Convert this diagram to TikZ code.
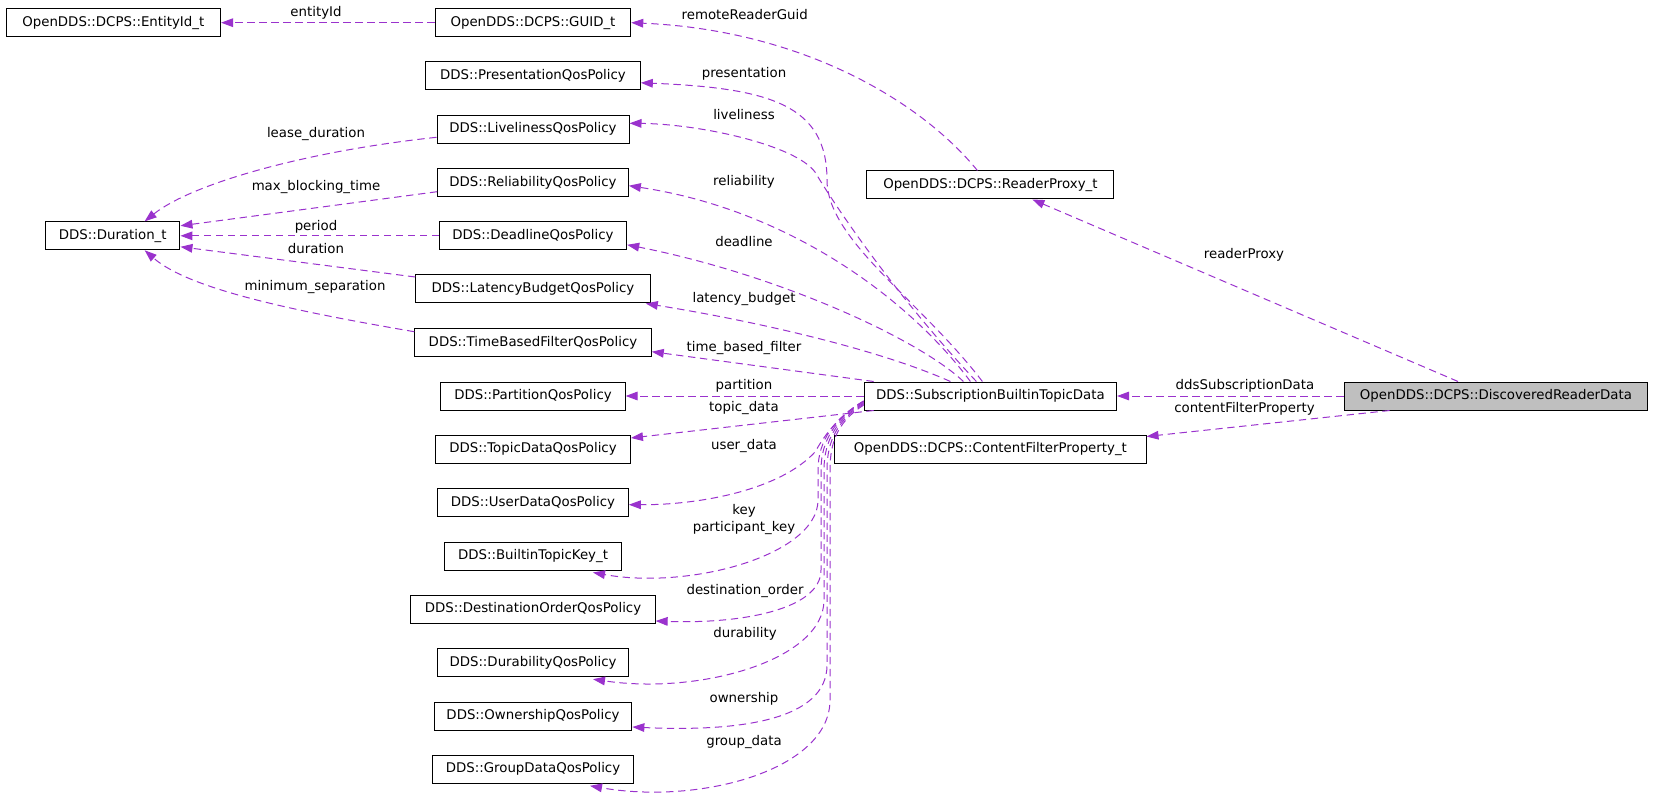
\documentclass[tikz,border=0pt]{standalone}
\usepackage{fontspec}
\setmainfont{DejaVu Sans}
\usetikzlibrary{arrows.meta,calc}
\definecolor{usecol}{HTML}{9A32CD}
\definecolor{curcol}{HTML}{BFBFBF}
\begin{document}
\begin{tikzpicture}[x=0.75pt,y=-0.75pt,
  cls/.style={draw=black,line width=0.75pt,fill=white,minimum height=21pt,inner xsep=0pt,inner ysep=0pt,font=\fontsize{10}{12}\selectfont},
  cur/.style={cls,fill=curcol},
  mem/.style={draw=usecol,line width=0.75pt,dash pattern=on 5.5pt off 3.5pt,-{Triangle[length=9pt,width=6.5pt]}},
  lab/.style={font=\fontsize{10}{12.75}\selectfont,inner sep=0pt,align=center}]
\useasboundingbox (0,0) rectangle (1653,802);
\node[cls,minimum width=160.9pt] (entityid) at (113.3,22.7) {OpenDDS::DCPS::EntityId\_t};
\node[cls,minimum width=146.6pt] (guid) at (533,22.7) {OpenDDS::DCPS::GUID\_t};
\node[cls,minimum width=161pt] (presentation) at (533,75.8) {DDS::PresentationQosPolicy};
\node[cls,minimum width=144pt] (liveliness) at (533,129.3) {DDS::LivelinessQosPolicy};
\node[cls,minimum width=143pt] (reliability) at (533,182.7) {DDS::ReliabilityQosPolicy};
\node[cls,minimum width=100.9pt] (duration) at (112.7,235.8) {DDS::Duration\_t};
\node[cls,minimum width=140.5pt] (deadline) at (533,235.8) {DDS::DeadlineQosPolicy};
\node[cls,minimum width=175.9pt] (latency) at (533,289) {DDS::LatencyBudgetQosPolicy};
\node[cls,minimum width=177.4pt] (timefilter) at (533,342.7) {DDS::TimeBasedFilterQosPolicy};
\node[cls,minimum width=138.2pt] (partition) at (533,396) {DDS::PartitionQosPolicy};
\node[cls,minimum width=146.2pt] (topicdata) at (533,449) {DDS::TopicDataQosPolicy};
\node[cls,minimum width=143pt] (userdata) at (533,502.7) {DDS::UserDataQosPolicy};
\node[cls,minimum width=132.2pt] (topickey) at (533,556) {DDS::BuiltinTopicKey\_t};
\node[cls,minimum width=183.2pt] (destorder) at (533,609) {DDS::DestinationOrderQosPolicy};
\node[cls,minimum width=143.3pt] (durability) at (533,662.7) {DDS::DurabilityQosPolicy};
\node[cls,minimum width=148.3pt] (ownership) at (533,716) {DDS::OwnershipQosPolicy};
\node[cls,minimum width=150.2pt] (groupdata) at (533,769.3) {DDS::GroupDataQosPolicy};
\node[cls,minimum width=185.2pt] (readerproxy) at (990.4,185) {OpenDDS::DCPS::ReaderProxy\_t};
\node[cls,minimum width=189.3pt] (subdata) at (990.4,396) {DDS::SubscriptionBuiltinTopicData};
\node[cls,minimum width=233.4pt] (filterprop) at (990.4,449) {OpenDDS::DCPS::ContentFilterProperty\_t};
\node[cur,minimum width=227.8pt] (discovered) at (1496,396) {OpenDDS::DCPS::DiscoveredReaderData};
\draw[mem] (guid.west) -- (entityid.east);
\draw[mem] ($(readerproxy.north)+(-13,0)$) .. controls (920,100) and (800,30) .. (guid.east);
\draw[mem] ($(discovered.north)+(-38,0)$) -- ($(readerproxy.south)+(42,0)$);
\draw[mem] (discovered.west) -- (subdata.east);
\draw[mem] ($(discovered.south west)+(46,0)$) -- ($(filterprop.north east)+(0,2)$);
\draw[mem] ($(subdata.north)+(-8,0)$) .. controls (920,300) and (827,240) .. (827,180) .. controls (827,105) and (770,88) .. ($(presentation.east)+(0,7)$);
\draw[mem] ($(subdata.north)+(-14,0)$) .. controls (900,300) and (840,214) .. (815,172) .. controls (795,145) and (700,124) .. ($(liveliness.east)+(0,-6)$);
\draw[mem] ($(subdata.north)+(-20,0)$) .. controls (910,300) and (790,210) .. ($(reliability.east)+(0,3)$);
\draw[mem] ($(subdata.north)+(-27,0)$) .. controls (920,340) and (780,275) .. ($(deadline.east)+(0,9)$);
\draw[mem] ($(subdata.north)+(-40,0)$) .. controls (880,350) and (760,322) .. ($(latency.south east)+(-5,0)$);
\draw[mem] ($(subdata.north west)+(10,0)$) -- ($(timefilter.east)+(0,9)$);
\draw[mem] (subdata.west) -- (partition.east);
\draw[mem] ($(subdata.south west)+(10,0)$) -- ($(topicdata.east)+(0,-11)$);
\draw[mem] ($(subdata.west)+(0,5)$) .. controls (835,418) and (822,440) .. (815,452) .. controls (780,490) and (700,505) .. ($(userdata.east)+(0,2)$);
\draw[mem] ($(subdata.west)+(0,5)$) .. controls (835,418) and (818,440) .. (818,470) -- (818,500) .. controls (818,555) and (690,590) .. ($(topickey.south)+(60,2)$);
\draw[mem] ($(subdata.west)+(0,6)$) .. controls (836,418) and (821,440) .. (821,470) -- (821,570) .. controls (821,610) and (740,624) .. ($(destorder.east)+(0,12)$);
\draw[mem] ($(subdata.west)+(0,7)$) .. controls (837,419) and (824,440) .. (824,470) -- (824,600) .. controls (824,660) and (700,695) .. ($(durability.south)+(60,2)$);
\draw[mem] ($(subdata.west)+(0,8)$) .. controls (838,420) and (827,440) .. (827,470) -- (827,665) .. controls (827,720) and (740,732) .. ($(ownership.east)+(0,11)$);
\draw[mem] ($(subdata.west)+(0,9)$) .. controls (839,421) and (830,440) .. (830,470) -- (830,700) .. controls (830,770) and (700,805) .. ($(groupdata.south)+(57,2)$);
\draw[mem] ($(liveliness.west)+(0,8)$) .. controls (300,152) and (190,185) .. ($(duration.north)+(32,0)$);
\draw[mem] ($(reliability.west)+(0,9)$) -- ($(duration.east)+(0,-10)$);
\draw[mem] (deadline.west) -- (duration.east);
\draw[mem] ($(latency.west)+(0,-12)$) -- ($(duration.east)+(0,11)$);
\draw[mem] ($(timefilter.west)+(0,-11)$) .. controls (300,312) and (190,290) .. ($(duration.south)+(32,0)$);
\node[lab] (entityidlab) at (316,12.7) {entityId};
\node[lab] (guidlab) at (744.7,15) {remoteReaderGuid};
\node[lab] (presentationlab) at (744,74) {presentation};
\node[lab] (livelinesslab) at (744,115) {liveliness};
\node[lab] (reliabilitylab) at (744,182.3) {reliability};
\node[lab] (deadlinelab) at (744,241.7) {deadline};
\node[lab] (latencylab) at (744,299) {latency\_budget};
\node[lab] (timefilterlab) at (744,347.7) {time\_based\_filter};
\node[lab] (partitionlab) at (744,386) {partition};
\node[lab] (topicdatalab) at (744,408) {topic\_data};
\node[lab] (userdatalab) at (744,446) {user\_data};
\node[lab] (topickeylab) at (744,519.5) {key\\participant\_key};
\node[lab] (destorderlab) at (745,591) {destination\_order};
\node[lab] (durabilitylab) at (745,634) {durability};
\node[lab] (ownershiplab) at (744,699) {ownership};
\node[lab] (groupdatalab) at (744,742) {group\_data};
\node[lab] (leaselab) at (316,134) {lease\_duration};
\node[lab] (blockinglab) at (316,187.3) {max\_blocking\_time};
\node[lab] (periodlab) at (316,226.7) {period};
\node[lab] (durationlab) at (316,248.3) {duration};
\node[lab] (separationlab) at (315,287.3) {minimum\_separation};
\node[lab] (readerproxylab) at (1244,255.3) {readerProxy};
\node[lab] (subdatalab) at (1245,386) {ddsSubscriptionData};
\node[lab] (filterproplab) at (1244.5,408.7) {contentFilterProperty};
\end{tikzpicture}
\end{document}
